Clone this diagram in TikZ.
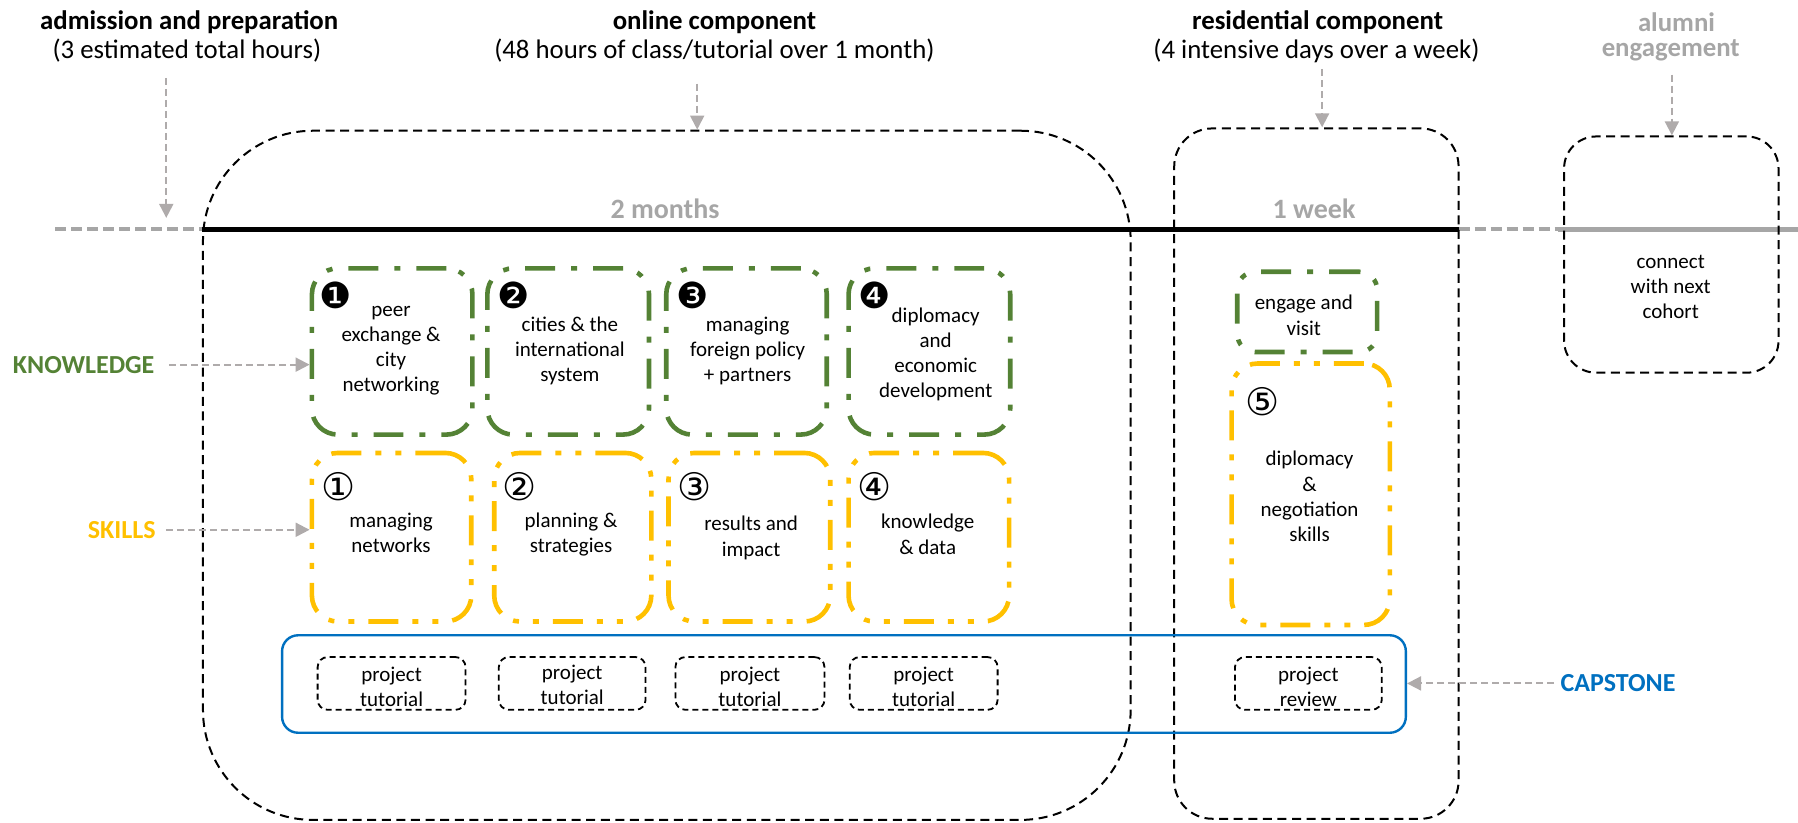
\documentclass[tikz,border=0pt]{standalone}
\usepackage{fontspec}
\setmainfont{Carlito}
\newfontfamily\symfont{DejaVu Sans}
\usetikzlibrary{arrows.meta}
\definecolor{kgreen}{RGB}{84,130,53}
\definecolor{syellow}{RGB}{255,192,0}
\definecolor{cblue}{RGB}{0,112,192}
\definecolor{lgray}{RGB}{166,166,166}
\definecolor{agray}{RGB}{175,171,171}
\begin{document}
\begin{tikzpicture}[x=0.5734pt,y=-0.5734pt,
  sz/.style 2 args={minimum width=#1*0.5734pt, minimum height=#2*0.5734pt},
  box/.style={inner sep=0pt},
  txt/.style={align=center, inner sep=0pt, font=\fontsize{10.5}{12.6}\selectfont},
  kbox/.style={box, draw=kgreen, line width=2.3pt, dash pattern=on 15pt off 8pt on 3pt off 8pt, rounded corners=13pt},
  sbox/.style={box, draw=syellow, line width=2.3pt, dash pattern=on 15pt off 7pt on 3pt off 7pt on 3pt off 7pt, rounded corners=13pt},
  pbox/.style={box, draw=black, line width=0.9pt, dash pattern=on 3pt off 2pt, rounded corners=5pt},
  cbox/.style={box, draw=cblue, line width=1.2pt, rounded corners=8pt},
  phase/.style={box, draw=black, line width=1pt, dash pattern=on 4.5pt off 2.8pt},
  ann/.style={draw=agray, line width=1pt, dash pattern=on 3.5pt off 2pt, -{Triangle[length=7pt,width=7pt]}},
  hdr/.style={align=center, inner sep=0pt, font=\fontsize{13.4}{15}\selectfont},
  lbl/.style={inner sep=0pt, font=\fontsize{13}{15}\selectfont\bfseries},
  num/.style={inner sep=0pt, font=\symfont\fontsize{18}{18}\selectfont},
  snum/.style={inner sep=0pt, font=\symfont\fontsize{19}{19}\selectfont},
  tldash/.style={draw=lgray, line width=2.1pt, dash pattern=on 5.5pt off 2.5pt},
]
\useasboundingbox (0,0) rectangle (1568,717);

% timeline
\coordinate (t0) at (48,200);
\coordinate (t1) at (176,200);
\coordinate (t2) at (1272,200);
\coordinate (t3) at (1359,200);
\coordinate (t4) at (1568,200);
\draw[tldash] (t0) -- (t1);
\draw[line width=2.6pt] (t1) -- (t2);
\draw[tldash] (t2) -- (t3);
\draw[draw=lgray, line width=2.3pt] (t3) -- (t4);
\node[lbl, text=lgray, font=\fontsize{14}{16}\selectfont\bfseries] (m2) at (580,182) {2 months};
\node[lbl, text=lgray, font=\fontsize{14}{16}\selectfont\bfseries] (w1) at (1146,182) {1 week};

% phase boxes
\node[phase, sz={809}{601}, rounded corners=55pt] (online) at (581.5,414.5) {};
\node[phase, sz={248}{602}, rounded corners=19pt] (resid) at (1148,413) {};
\node[phase, sz={187}{206}, rounded corners=16pt] (alumni) at (1457.5,222) {};
\node[txt] (alumnit) at (1457,250) {connect\\with next\\cohort};

% headers
\node[hdr] (hA1) at (165,19) {\textbf{admission and preparation}};
\node[hdr] (hA2) at (163,44) {(3 estimated total hours)};
\node[hdr] (hB1) at (623,19) {\textbf{online component}};
\node[hdr] (hB2) at (623,44) {(48 hours of class/tutorial over 1 month)};
\node[hdr] (hC1) at (1149,19) {\textbf{residential component}};
\node[hdr] (hC2) at (1148,44) {(4 intensive days over a week)};
\node[hdr, text=lgray] (hD1) at (1462,19) {\textbf{alumni}};
\node[hdr, text=lgray] (hD2) at (1457,44) {\textbf{engagement}};

% header arrows
\coordinate (aA0) at (145,68);  \coordinate (aA1) at (145,190);
\coordinate (aB0) at (608,73);  \coordinate (aB1) at (608,113);
\coordinate (aC0) at (1153,60); \coordinate (aC1) at (1153,111);
\coordinate (aD0) at (1458,65); \coordinate (aD1) at (1458,118);
\draw[ann] (aA0) -- (aA1);
\draw[ann] (aB0) -- (aB1);
\draw[ann] (aC0) -- (aC1);
\draw[ann] (aD0) -- (aD1);

% knowledge boxes
\node[kbox, sz={140}{145}] (k1) at (342,306.5) {};
\node[kbox, sz={141}{145}] (k2) at (495.5,306.5) {};
\node[kbox, sz={140}{145}] (k3) at (651,306.5) {};
\node[kbox, sz={141}{145}] (k4) at (810.5,306.5) {};
\node[kbox, sz={122}{70}, rounded corners=9pt] (k5) at (1140,272) {};
\node[txt] (k1t) at (341,306) {peer\\exchange \&\\city\\networking};
\node[txt] (k2t) at (497,306) {cities \& the\\international\\system};
\node[txt] (k3t) at (652,306) {managing\\foreign policy\\+ partners};
\node[txt] (k4t) at (816,309) {diplomacy\\and\\economic\\development};
\node[txt] (k5t) at (1137,275) {engage and\\visit};
\node[num] (n1) at (293,258) {❶};
\node[num] (n2) at (448,258) {❷};
\node[num] (n3) at (604,258) {❸};
\node[num] (n4) at (763,258) {❹};

% skills boxes
\node[sbox, sz={139}{147}] (s1) at (341.5,468.5) {};
\node[sbox, sz={137}{147}] (s2) at (499.5,468.5) {};
\node[sbox, sz={141}{147}] (s3) at (653.5,468.5) {};
\node[sbox, sz={140}{147}] (s4) at (810,468.5) {};
\node[sbox, sz={138}{228}] (s5) at (1143,431) {};
\node[txt] (s1t) at (341,465) {managing\\networks};
\node[txt] (s2t) at (498,466) {planning \&\\strategies};
\node[txt] (s3t) at (655,469) {results and\\impact};
\node[txt] (s4t) at (809,466) {knowledge\\\& data};
\node[txt] (s5t) at (1142,433) {diplomacy\\\&\\negotiation\\skills};
\node[snum] (m1) at (295,424) {①};
\node[snum] (m2n) at (453,424) {②};
\node[snum] (m3) at (606,424) {③};
\node[snum] (m4) at (763,424) {④};
\node[snum] (m5) at (1101,350) {⑤};

% capstone
\node[cbox, sz={980}{85}] (cap) at (736,596.5) {};
\node[pbox, sz={129}{46}] (p1) at (341.5,596) {};
\node[pbox, sz={128}{46}] (p2) at (499,596) {};
\node[pbox, sz={130}{46}] (p3) at (654,596) {};
\node[pbox, sz={129}{46}] (p4) at (805.5,596) {};
\node[pbox, sz={128}{46}] (p5) at (1141,596) {};
\node[txt] (p1t) at (341.5,599) {project\\tutorial};
\node[txt] (p2t) at (499,597) {project\\tutorial};
\node[txt] (p3t) at (654,599) {project\\tutorial};
\node[txt] (p4t) at (805.5,599) {project\\tutorial};
\node[txt] (p5t) at (1141,599) {project\\review};

% side labels
\node[lbl, text=kgreen, anchor=east] (KN) at (135,318) {KNOWLEDGE};
\node[lbl, text=syellow, anchor=east] (SK) at (136,462) {SKILLS};
\node[lbl, text=cblue] (CAP) at (1411,596) {CAPSTONE};
\draw[ann] ([xshift=7pt]KN.east) -- (k1.west |- KN.east);
\draw[ann] ([xshift=5pt]SK.east) -- (s1.west |- SK.east);
\draw[ann] ([xshift=-3pt]CAP.west) -- (cap.east |- CAP.west);
\end{tikzpicture}
\end{document}
